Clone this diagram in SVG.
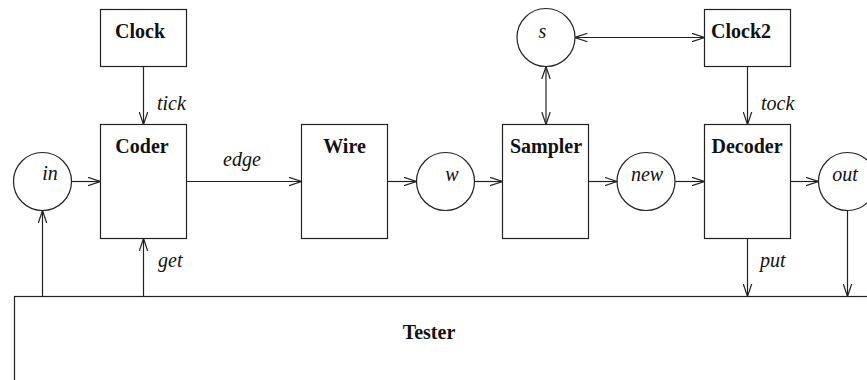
<svg xmlns="http://www.w3.org/2000/svg" width="867" height="380" viewBox="0 0 867 380">
<style>
.box{fill:#fff;stroke:#222;stroke-width:1.2}
.c{fill:#fff;stroke:#222;stroke-width:1.2}
.ln{fill:none;stroke:#222;stroke-width:1.2}
.b{font-family:"Liberation Serif",serif;font-weight:bold;font-size:20px;fill:#111;text-anchor:middle}
.i{font-family:"Liberation Serif",serif;font-style:italic;font-size:20px;fill:#111}
.ic{font-family:"Liberation Serif",serif;font-style:italic;font-size:20px;fill:#111;text-anchor:middle}
</style>
<defs>
<marker id="ah" markerUnits="userSpaceOnUse" viewBox="0 0 13 10" refX="12.5" refY="5" markerWidth="13" markerHeight="10" orient="auto-start-reverse">
<path d="M0,0.8 L12.5,5 L0,9.2" fill="none" stroke="#222" stroke-width="1.2"/>
</marker>
</defs>
<g id="tester">
<rect class="box" x="14.5" y="296.5" width="900" height="200"/>
<text class="b" x="429" y="339">Tester</text>
</g>
<g id="clock">
<rect class="box" x="100.5" y="9.5" width="86" height="57"/>
<text class="b" x="140" y="38">Clock</text>
</g>
<g id="coder">
<rect class="box" x="100.5" y="124.5" width="86" height="114"/>
<text class="b" x="142" y="153">Coder</text>
</g>
<g id="wire">
<rect class="box" x="301.5" y="124.5" width="86" height="114"/>
<text class="b" x="344.5" y="153">Wire</text>
</g>
<g id="sampler">
<rect class="box" x="502.5" y="124.5" width="86" height="114"/>
<text class="b" x="546" y="153">Sampler</text>
</g>
<g id="clock2">
<rect class="box" x="704.5" y="9.5" width="86" height="57"/>
<text class="b" x="741" y="38">Clock2</text>
</g>
<g id="decoder">
<rect class="box" x="704.5" y="124.5" width="86" height="114"/>
<text class="b" x="747" y="153">Decoder</text>
</g>
<g id="in">
<circle class="c" cx="42.5" cy="181.5" r="29"/>
<text class="ic" x="50" y="180">in</text>
</g>
<g id="w">
<circle class="c" cx="445.5" cy="181.5" r="29"/>
<text class="ic" x="452" y="181">w</text>
</g>
<g id="s">
<circle class="c" cx="546" cy="37.5" r="29"/>
<text class="ic" x="542.5" y="37.5">s</text>
</g>
<g id="new">
<circle class="c" cx="646" cy="181.5" r="29"/>
<text class="ic" x="647" y="181">new</text>
</g>
<g id="out">
<circle class="c" cx="847.5" cy="181.5" r="29"/>
<text class="ic" x="845" y="181">out</text>
</g>
<g id="connectors">
<line class="ln" x1="143.5" y1="66.5" x2="143.5" y2="124.5" marker-end="url(#ah)"/>
<text class="i" x="157" y="110">tick</text>
<line class="ln" x1="71.5" y1="181.5" x2="100.5" y2="181.5" marker-end="url(#ah)"/>
<line class="ln" x1="186.5" y1="181.5" x2="301.5" y2="181.5" marker-end="url(#ah)"/>
<text class="i" x="223" y="166">edge</text>
<line class="ln" x1="387.5" y1="181.5" x2="416.5" y2="181.5" marker-end="url(#ah)"/>
<line class="ln" x1="474.5" y1="181.5" x2="502.5" y2="181.5" marker-end="url(#ah)"/>
<line class="ln" x1="588.5" y1="181.5" x2="617" y2="181.5" marker-end="url(#ah)"/>
<line class="ln" x1="675" y1="181.5" x2="704.5" y2="181.5" marker-end="url(#ah)"/>
<line class="ln" x1="790.5" y1="181.5" x2="818.5" y2="181.5" marker-end="url(#ah)"/>
<line class="ln" x1="546" y1="66.5" x2="546" y2="124.5" marker-start="url(#ah)" marker-end="url(#ah)"/>
<line class="ln" x1="575" y1="37.5" x2="704.5" y2="37.5" marker-start="url(#ah)" marker-end="url(#ah)"/>
<line class="ln" x1="747.5" y1="66.5" x2="747.5" y2="124.5" marker-end="url(#ah)"/>
<text class="i" x="761" y="110">tock</text>
<line class="ln" x1="42.5" y1="296.5" x2="42.5" y2="210.5" marker-end="url(#ah)"/>
<line class="ln" x1="143.5" y1="296.5" x2="143.5" y2="238.5" marker-end="url(#ah)"/>
<text class="i" x="158" y="267">get</text>
<line class="ln" x1="747.5" y1="238.5" x2="747.5" y2="296.5" marker-end="url(#ah)"/>
<text class="i" x="760" y="267">put</text>
<line class="ln" x1="847.5" y1="210.5" x2="847.5" y2="296.5" marker-end="url(#ah)"/>
</g>
</svg>
